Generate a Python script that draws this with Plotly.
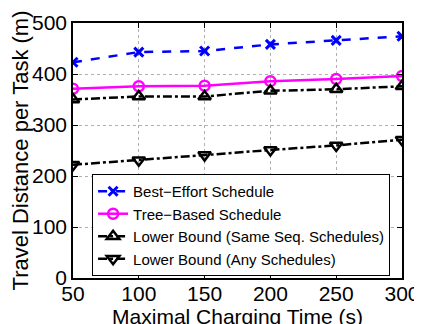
import plotly.graph_objects as go

x_vals = [50, 100, 150, 200, 250, 300]
best_effort = [423, 443, 445, 458, 466, 474]
tree_based = [371, 376, 377, 386, 390, 396]
lb_same_seq = [350, 356, 356, 367, 370, 376]
lb_any = [222, 231, 241, 251, 260, 271]
x_ticks = [50, 100, 150, 200, 250, 300]
y_ticks = [0, 100, 200, 300, 400, 500]

FONT = "Liberation Sans, Arial, sans-serif"

fig = go.Figure()
fig.add_trace(go.Scatter(x=x_vals, y=best_effort, mode="lines+markers",
                         name="Best\u2212Effort Schedule",
                         line=dict(color="#0000ff", width=2.5, dash="dash"),
                         marker=dict(symbol="x-thin-open", size=9, color="#0000ff",
                                     line=dict(width=3, color="#0000ff"))))
fig.add_trace(go.Scatter(x=x_vals, y=tree_based, mode="lines+markers",
                         name="Tree\u2212Based Schedule",
                         line=dict(color="#ff00ff", width=2.5),
                         marker=dict(symbol="circle-open", size=10, color="#ff00ff",
                                     line=dict(width=2.5, color="#ff00ff"))))
fig.add_trace(go.Scatter(x=x_vals, y=lb_same_seq, mode="lines+markers",
                         name="Lower Bound (Same Seq. Schedules)",
                         line=dict(color="black", width=2.5, dash="dashdot"),
                         marker=dict(symbol="triangle-up-open", size=11, color="black",
                                     line=dict(width=2.5, color="black"))))
fig.add_trace(go.Scatter(x=x_vals, y=lb_any, mode="lines+markers",
                         name="Lower Bound (Any Schedules)",
                         line=dict(color="black", width=2.5, dash="dashdot"),
                         marker=dict(symbol="triangle-down-open", size=11, color="black",
                                     line=dict(width=2.5, color="black"))))

axis_common = dict(showline=True, linecolor="black", linewidth=1.5, mirror="ticks",
                   ticks="inside", ticklen=5, tickcolor="black", automargin=False,
                   showgrid=True, gridcolor="#b0b0b0", griddash="dot", gridwidth=1,
                   zeroline=False, tickfont=dict(family=FONT, size=21, color="black"))

fig.update_xaxes(range=[50, 300], tickvals=x_ticks, ticklabelstandoff=-4, **axis_common,
                 title=dict(text="Maximal Charging Time (s)", standoff=0,
                            font=dict(family=FONT, size=21, color="black")))
fig.update_yaxes(range=[0, 500], tickvals=y_ticks, **axis_common,
                 title=dict(text="Travel Distance per Task (m)", standoff=2,
                            font=dict(family=FONT, size=22, color="black")))

fig.update_layout(
    width=422, height=324,
    margin=dict(l=65, r=28, t=15, b=54),
    plot_bgcolor="white", paper_bgcolor="white",
    font=dict(family=FONT, color="black"),
    legend=dict(x=0.058, y=0.408, xanchor="left", yanchor="top",
                bgcolor="white", bordercolor="black", borderwidth=1,
                font=dict(family=FONT, size=15, color="black"),
                tracegroupgap=0, itemwidth=30),
    showlegend=True,
)

fig.write_html("out.html")
